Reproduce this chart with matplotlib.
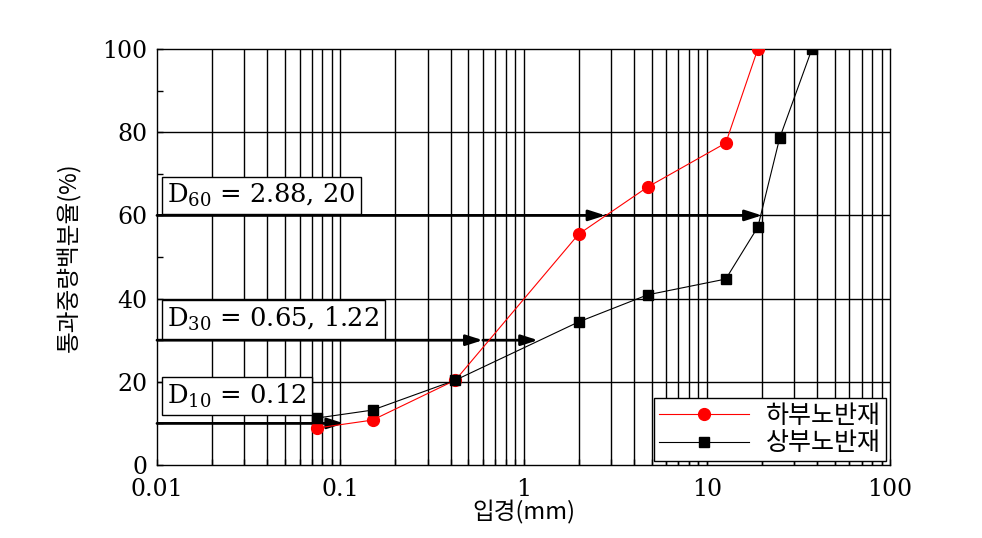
import matplotlib
matplotlib.use("Agg")
import matplotlib.pyplot as plt
import numpy as np

plt.rcParams['mathtext.fontset'] = 'dejavuserif'

# Data
sieve_lower = [0.075, 0.15, 0.425, 2.0, 4.75, 12.7, 19.0]
pass_lower = [8.9, 10.8, 20.4, 55.5, 66.8, 77.4, 100.0]
sieve_upper = [0.075, 0.15, 0.425, 2.0, 4.75, 12.7, 19.0, 25.0, 37.5]
pass_upper = [11.3, 13.2, 20.4, 34.4, 40.9, 44.7, 57.2, 78.6, 100.0]
label_lower = '하부노반재'
label_upper = '상부노반재'

d_levels = [60, 30, 10]
d_arrows = [[2.8, 20.0], [0.6, 1.2], [0.105]]
d_texts = [r'D$_{60}$ = 2.88, 20', r'D$_{30}$ = 0.65, 1.22', r'D$_{10}$ = 0.12']
d_text_y = [64.8, 35.0, 16.6]

xticks = [0.01, 0.1, 1, 10, 100]
xticklabels = ['0.01', '0.1', '1', '10', '100']
yticks = [0, 20, 40, 60, 80, 100]

serif = ['DejaVu Serif']
kr = ['Noto Sans CJK KR', 'DejaVu Serif']

fig = plt.figure(figsize=(9.82, 5.38), dpi=100)
ax = fig.add_axes([157/982, 1-465/538, 733/982, 416/538])
ax.set_xscale('log')
ax.set_xlim(0.01, 100)
ax.set_ylim(0, 100)

# grid: vertical at all log minors and majors, horizontal at majors
for dec in [0.01, 0.1, 1, 10]:
    for m in range(1, 10):
        v = dec * m
        if v > 0.01:
            ax.axvline(v, color='black', lw=1.0, zorder=1)
for y in [20, 40, 60, 80]:
    ax.axhline(y, color='black', lw=1.0, zorder=1)

ax.plot(sieve_lower, pass_lower, color='red', lw=0.8, marker='o', ms=8.5,
        markerfacecolor='red', markeredgecolor='red', label=label_lower, zorder=5)
ax.plot(sieve_upper, pass_upper, color='black', lw=0.8, marker='s', ms=7,
        markerfacecolor='black', markeredgecolor='black', label=label_upper, zorder=5)

# arrows
for lvl, xs in zip(d_levels, d_arrows):
    start = 0.01
    for xe in xs:
        ax.annotate('', xy=(xe, lvl), xytext=(start, lvl),
                    arrowprops=dict(arrowstyle='-|>,head_length=1.0,head_width=0.32',
                                    color='black', lw=2.0, shrinkA=0, shrinkB=0),
                    zorder=4)
        start = xe

for txt, ty in zip(d_texts, d_text_y):
    ax.text(0.0114, ty, txt, fontsize=18.5, family=serif, va='center', ha='left',
            bbox=dict(boxstyle='square,pad=0.2', facecolor='white', edgecolor='black', lw=1.0),
            zorder=6)

ax.set_xticks(xticks)
ax.set_xticklabels(xticklabels, fontsize=17, family=serif)
ax.set_yticks(yticks)
ax.set_yticklabels([str(v) for v in yticks], fontsize=17, family=serif)
ax.set_yticks([10, 30, 50, 70, 90], minor=True)
ax.xaxis.set_minor_formatter(matplotlib.ticker.NullFormatter())
ax.tick_params(axis='both', which='both', direction='in', length=4, width=1.0, color='black')
ax.tick_params(axis='x', pad=9)
ax.tick_params(axis='y', pad=7)

for s in ax.spines.values():
    s.set_linewidth(1.0)

ax.set_xlabel('입경(mm)', fontsize=17, family=kr, labelpad=0)
ax.set_ylabel('통과중량백분율(%)', fontsize=17, family=kr, labelpad=15)

leg = ax.legend(loc='lower right', prop={'family': kr, 'size': 18}, frameon=True,
                fancybox=False, edgecolor='black', framealpha=1.0, borderpad=0.2,
                handlelength=3.6, handletextpad=0.7, labelspacing=0.05,
                borderaxespad=0.15)
leg.get_frame().set_linewidth(1.0)
leg.set_zorder(10)

fig.savefig('out.png', dpi=100, facecolor='white')
